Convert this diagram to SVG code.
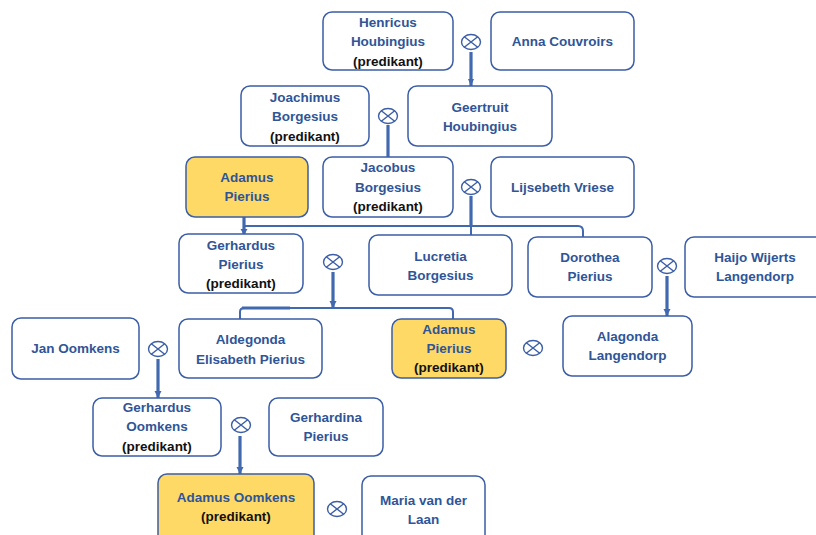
<svg xmlns="http://www.w3.org/2000/svg" width="816" height="535" viewBox="0 0 816 535">
<defs>
<style>
.box{fill:#ffffff;stroke:#3B5EA6;stroke-width:1.5}
.hl{fill:#FFD966;stroke:#3B5EA6;stroke-width:1.5}
text{font-family:"Liberation Sans",Arial,sans-serif;font-weight:bold;font-size:13.5px;text-anchor:middle;dominant-baseline:central}
.n{fill:#2F5597}
.p{fill:#111111}
.ln{fill:none;stroke:#4169B0;stroke-width:2}
.th{fill:none;stroke:#4169B0;stroke-width:3.2}
.ox{fill:none;stroke:#3B5EA6;stroke-width:1.4}
</style>
<marker id="ah" markerWidth="6" markerHeight="6" refX="3" refY="5" orient="auto" markerUnits="userSpaceOnUse" viewBox="0 0 6 6">
<path d="M0,1 L6,1 L3,6 Z" fill="#4169B0" transform="rotate(-90 3 3)"/>
</marker>
<g id="otimes">
<ellipse cx="0" cy="0" rx="9.5" ry="7.5" class="ox"/>
<path d="M-6.7,-5.3 L6.7,5.3 M-6.7,5.3 L6.7,-5.3" class="ox"/>
</g>
</defs>
<rect width="816" height="535" fill="#ffffff"/>

<g id="connectors">
<line x1="471" y1="52" x2="471" y2="86" class="th"/>
<path d="M468,79 L474,79 L471,86 Z" fill="#4169B0"/>
<line x1="388" y1="125" x2="388" y2="157" class="th"/>
<line x1="471" y1="196" x2="471" y2="227" class="th"/>
<line x1="471" y1="226" x2="471" y2="235" class="ln"/>
<path d="M244,226 L578,226 Q583,226 583,231 L583,237" class="ln"/>
<line x1="244" y1="217" x2="244" y2="234" class="th" stroke-width="4"/>
<path d="M240.5,229 L247.5,229 L244,235 Z" fill="#4169B0"/>
<line x1="333" y1="272" x2="333" y2="308" class="th"/>
<path d="M329.5,301 L336.5,301 L333,308 Z" fill="#4169B0"/>
<path d="M240,319 L240,312 Q240,308 244,308 L449,308 Q453,308 453,312 L453,320" class="ln"/>
<line x1="242" y1="308" x2="290" y2="308" class="th"/>
<line x1="667" y1="276" x2="667" y2="316" class="th"/>
<path d="M663.5,309 L670.5,309 L667,316 Z" fill="#4169B0"/>
<line x1="158" y1="359" x2="158" y2="398" class="th"/>
<path d="M154.5,391 L161.5,391 L158,398 Z" fill="#4169B0"/>
<line x1="240" y1="436" x2="240" y2="474" class="th"/>
<path d="M236.5,467 L243.5,467 L240,474 Z" fill="#4169B0"/>
</g>

<g id="marriages">
<use href="#otimes" x="471" y="42"/>
<use href="#otimes" x="388" y="116"/>
<use href="#otimes" x="471" y="187"/>
<use href="#otimes" x="333" y="262"/>
<use href="#otimes" x="667" y="266"/>
<use href="#otimes" x="158" y="349"/>
<use href="#otimes" x="533" y="348"/>
<use href="#otimes" x="241" y="425"/>
<use href="#otimes" x="337" y="509"/>
</g>

<g id="henricus-houbingius">
<rect x="323" y="12" width="130" height="58" rx="9" class="box"/>
<text x="388" y="22" class="n">Henricus</text>
<text x="388" y="41.5" class="n">Houbingius</text>
<text x="388" y="61" class="p">(predikant)</text>
</g>
<g id="anna-couvroirs">
<rect x="491" y="12" width="143" height="58" rx="9" class="box"/>
<text x="562.5" y="41.5" class="n">Anna Couvroirs</text>
</g>
<g id="joachimus-borgesius">
<rect x="241" y="86" width="128" height="60" rx="9" class="box"/>
<text x="305" y="97" class="n">Joachimus</text>
<text x="305" y="116.5" class="n">Borgesius</text>
<text x="305" y="136" class="p">(predikant)</text>
</g>
<g id="geertruit-houbingius">
<rect x="408" y="86" width="144" height="60" rx="9" class="box"/>
<text x="480" y="107" class="n">Geertruit</text>
<text x="480" y="126.5" class="n">Houbingius</text>
</g>
<g id="adamus-pierius-1">
<rect x="186" y="157" width="122" height="60" rx="9" class="hl"/>
<text x="247" y="177" class="n">Adamus</text>
<text x="247" y="196.5" class="n">Pierius</text>
</g>
<g id="jacobus-borgesius">
<rect x="323" y="157" width="130" height="60" rx="9" class="box"/>
<text x="388" y="167.5" class="n">Jacobus</text>
<text x="388" y="187" class="n">Borgesius</text>
<text x="388" y="206" class="p">(predikant)</text>
</g>
<g id="lijsebeth-vriese">
<rect x="491" y="157" width="143" height="60" rx="9" class="box"/>
<text x="562.5" y="187" class="n">Lijsebeth Vriese</text>
</g>
<g id="gerhardus-pierius">
<rect x="179" y="234" width="124" height="59" rx="9" class="box"/>
<text x="241" y="245" class="n">Gerhardus</text>
<text x="241" y="264" class="n">Pierius</text>
<text x="241" y="283" class="p">(predikant)</text>
</g>
<g id="lucretia-borgesius">
<rect x="369" y="235" width="143" height="60" rx="9" class="box"/>
<text x="440.5" y="256" class="n">Lucretia</text>
<text x="440.5" y="275" class="n">Borgesius</text>
</g>
<g id="dorothea-pierius">
<rect x="528" y="237" width="124" height="60" rx="9" class="box"/>
<text x="590" y="257" class="n">Dorothea</text>
<text x="590" y="276" class="n">Pierius</text>
</g>
<g id="haijo-wijerts-langendorp">
<rect x="685" y="237" width="140" height="60" rx="9" class="box"/>
<text x="755" y="257" class="n">Haijo Wijerts</text>
<text x="755" y="276" class="n">Langendorp</text>
</g>
<g id="jan-oomkens">
<rect x="12" y="318" width="127" height="61" rx="9" class="box"/>
<text x="75.5" y="348.5" class="n">Jan Oomkens</text>
</g>
<g id="aldegonda-elisabeth-pierius">
<rect x="179" y="319" width="143" height="59" rx="9" class="box"/>
<text x="250.5" y="339.5" class="n">Aldegonda</text>
<text x="250.5" y="359" class="n">Elisabeth Pierius</text>
</g>
<g id="adamus-pierius-2">
<rect x="392" y="319" width="114" height="59" rx="9" class="hl"/>
<text x="449" y="329.5" class="n">Adamus</text>
<text x="449" y="348.5" class="n">Pierius</text>
<text x="449" y="367.5" class="p">(predikant)</text>
</g>
<g id="alagonda-langendorp">
<rect x="563" y="316" width="129" height="60" rx="9" class="box"/>
<text x="627.5" y="336.5" class="n">Alagonda</text>
<text x="627.5" y="355.5" class="n">Langendorp</text>
</g>
<g id="gerhardus-oomkens">
<rect x="93" y="398" width="128" height="58" rx="9" class="box"/>
<text x="157" y="407" class="n">Gerhardus</text>
<text x="157" y="426.5" class="n">Oomkens</text>
<text x="157" y="446" class="p">(predikant)</text>
</g>
<g id="gerhardina-pierius">
<rect x="269" y="398" width="114" height="58" rx="9" class="box"/>
<text x="326" y="417" class="n">Gerhardina</text>
<text x="326" y="436.5" class="n">Pierius</text>
</g>
<g id="adamus-oomkens">
<rect x="158" y="474" width="156" height="70" rx="9" class="hl"/>
<text x="236" y="497" class="n">Adamus Oomkens</text>
<text x="236" y="516.5" class="p">(predikant)</text>
</g>
<g id="maria-van-der-laan">
<rect x="362" y="476" width="123" height="70" rx="9" class="box"/>
<text x="423.5" y="500" class="n">Maria van der</text>
<text x="423.5" y="519.5" class="n">Laan</text>
</g>
</svg>
